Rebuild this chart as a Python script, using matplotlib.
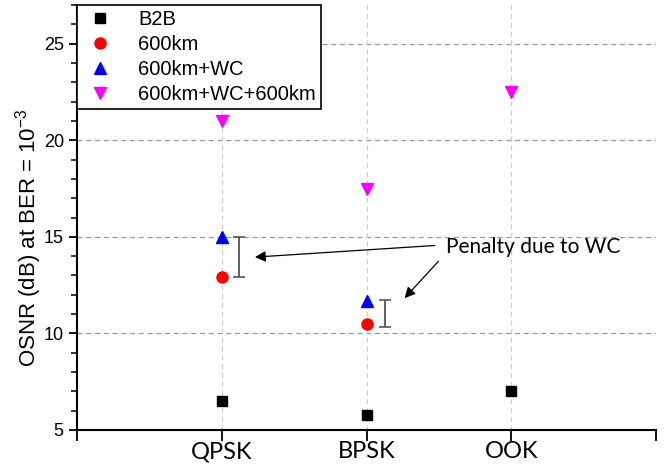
import matplotlib.pyplot as plt
import numpy as np

# modulation formats and OSNR values (dB) at BER = 1e-3
formats = ['QPSK', 'BPSK', 'OOK']
b2b = [6.5, 5.8, 7.0]
km600 = [12.9, 10.5, np.nan]
km600_wc = [15.0, 11.7, np.nan]
km600_wc_600 = [21.0, 17.5, 22.5]

# penalty bars (bottom, top) next to QPSK and BPSK
penalty_lo = [12.9, 10.35]
penalty_hi = [15.0, 11.75]

x = np.arange(1, len(formats) + 1)

plt.rcParams['font.family'] = ['Liberation Sans', 'DejaVu Sans']

fig = plt.figure(figsize=(6.67, 4.66), dpi=100)
ax = fig.add_axes([77/667, 1 - 430/466, (656 - 77)/667, (430 - 5)/466])

ax.plot(x, b2b, 's', color='black', markersize=7, label='B2B', zorder=3)
ax.plot(x, km600, 'o', color='red', markersize=8, label='600km', zorder=3)
ax.plot(x, km600_wc, '^', color='blue', markersize=8.5, label='600km+WC', zorder=3)
ax.plot(x, km600_wc_600, 'v', color='magenta', markersize=8.5,
        label='600km+WC+600km', zorder=3)

# penalty I-beams
px = [1.12, 2.13]
mid = [(a + b) / 2 for a, b in zip(penalty_lo, penalty_hi)]
half = [(b - a) / 2 for a, b in zip(penalty_lo, penalty_hi)]
ax.errorbar(px, mid, yerr=half, fmt='none', ecolor='#555555',
            elinewidth=1.3, capsize=4, capthick=1.2, zorder=3)

# annotation with two arrows
ax.text(2.55, 14.45, 'Penalty due to WC', fontsize=15, family='Lato',
        ha='left', va='center')
arrow = dict(arrowstyle='-|>', color='black', lw=0.9, mutation_scale=16)
ax.annotate('', xy=(1.21, 13.94), xytext=(2.49, 14.56), arrowprops=arrow)
ax.annotate('', xy=(2.25, 11.72), xytext=(2.51, 13.84), arrowprops=arrow)

ax.set_xlim(0, 4)
ax.set_ylim(5, 27)
ax.set_xticks([0, 1, 2, 3, 4])
ax.set_xticklabels([''] + formats + [''], fontsize=17, family='Lato')
ax.set_yticks([5, 10, 15, 20, 25])
ax.set_yticks(np.arange(5, 28, 1), minor=True)
ax.tick_params(axis='y', which='major', labelsize=13, direction='out',
               length=6, width=1.3)
ax.tick_params(axis='y', which='minor', direction='out', length=4, width=1.1)
ax.tick_params(axis='x', which='major', direction='out', length=8, width=1.3,
               pad=0)

ax.set_ylabel(r'OSNR (dB) at BER = 10$^{\mathregular{-3}}$', fontsize=16)
ax.yaxis.set_label_coords(-0.057, 0.452)

ax.spines['top'].set_visible(False)
ax.spines['right'].set_visible(False)
ax.spines['left'].set_linewidth(1.5)
ax.spines['bottom'].set_linewidth(1.5)

for yv in [10, 15, 20, 25]:
    ax.axhline(yv, color='#999999', linestyle=(0, (4, 3)), lw=0.9, zorder=1)
for xv in x:
    ax.axvline(xv, color='#cccccc', linestyle=(0, (4, 3)), lw=0.9, zorder=1)

leg = ax.legend(loc='upper left', fontsize=14.5, frameon=True, fancybox=False,
                borderaxespad=0, handletextpad=1.0, labelspacing=0.3,
                borderpad=0.25, handlelength=1.8)
leg.get_frame().set_edgecolor('black')
leg.get_frame().set_linewidth(1.2)
leg.get_frame().set_alpha(1)
leg.set_zorder(5)

fig.savefig('out.png', dpi=100)
